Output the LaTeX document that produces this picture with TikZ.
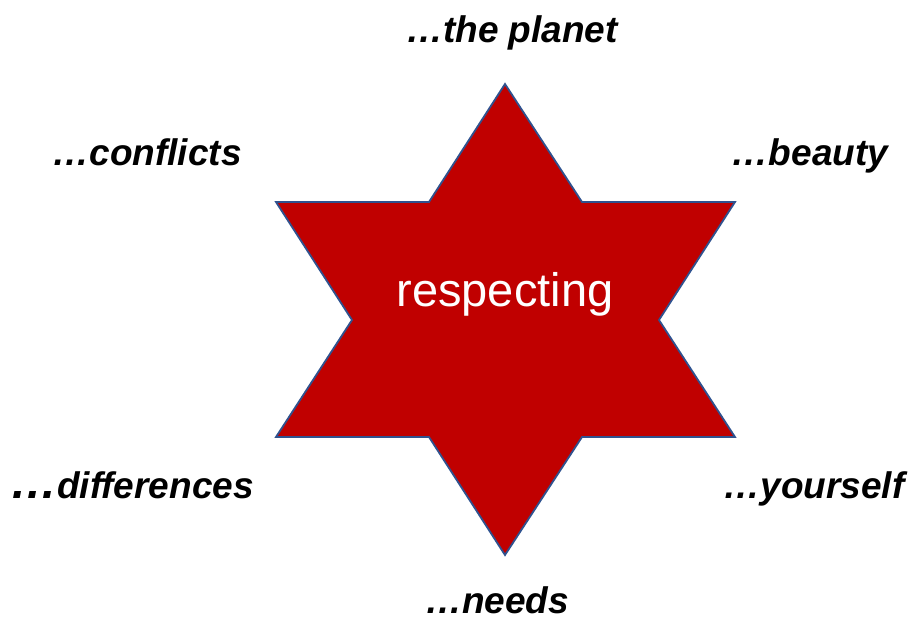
\documentclass[tikz,border=0pt]{standalone}
\usepackage{fontspec}
\setmainfont{Liberation Sans}
\begin{document}
\begin{tikzpicture}[x=1pt,y=-1pt,
  lbl/.style={anchor=base,inner sep=0pt,font=\fontsize{37}{40}\selectfont\bfseries\itshape},
  center/.style={anchor=base,inner sep=0pt,text=white,font=\fontsize{47}{50}\selectfont}]
\definecolor{starred}{HTML}{C00000}
\definecolor{starblue}{HTML}{2F528F}
\useasboundingbox (0,0) rectangle (914,619);
\coordinate (t) at (505,84);
\coordinate (itr) at (582,202);
\coordinate (r1) at (735,202);
\coordinate (ir) at (659,320);
\coordinate (r2) at (735,437);
\coordinate (ibr) at (582,437);
\coordinate (b) at (505,555);
\coordinate (ibl) at (429,437);
\coordinate (l2) at (276,437);
\coordinate (il) at (352,320);
\coordinate (l1) at (276,202);
\coordinate (itl) at (429,202);
\draw[fill=starred,draw=starblue,line width=1.8pt,line join=miter]
  (t) -- (itr) -- (r1) -- (ir) -- (r2) -- (ibr) -- (b) -- (ibl) -- (l2) -- (il) -- (l1) -- (itl) -- cycle;
\node[center] (c) at (505,306) {respecting};
\node[lbl] (n1) at (512,42) {…the planet};
\node[lbl] (n2) at (147,165) {…conflicts};
\node[lbl] (n3) at (810,165) {…beauty};
\node[lbl] (n4) at (132,498) {{\fontsize{47}{50}\selectfont …}differences};
\node[lbl] (n5) at (814,498) {…yourself};
\node[lbl,text depth=0pt] (n6) at (497,613) {…needs};
\end{tikzpicture}
\end{document}
